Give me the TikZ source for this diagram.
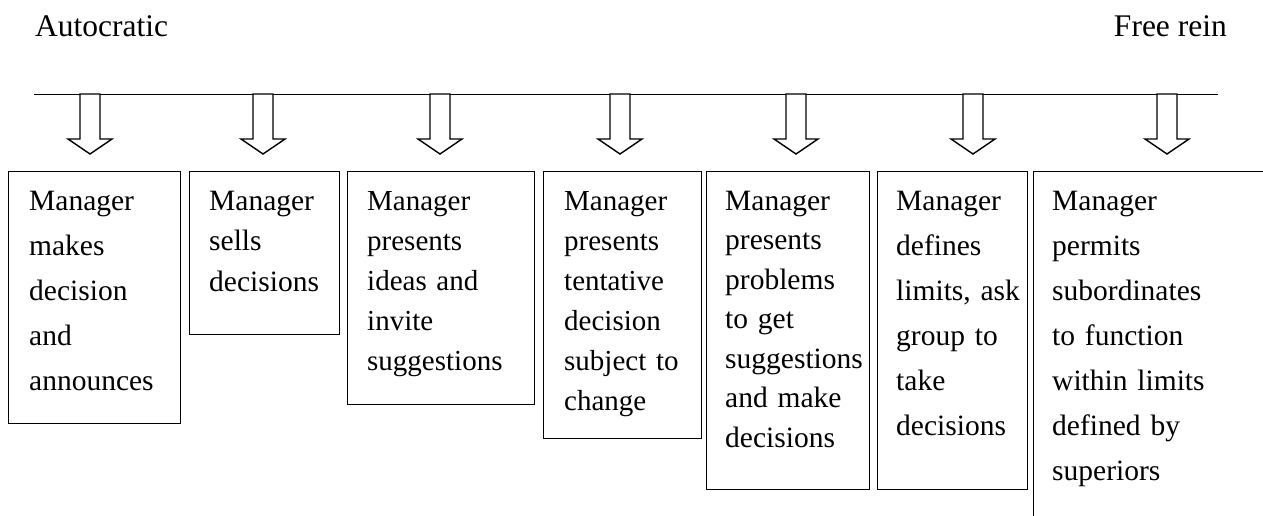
\documentclass[tikz,border=0pt]{standalone}
\usepackage{fontspec}
\setmainfont{Liberation Serif}
\begin{document}
\begin{tikzpicture}[x=1pt,y=-1pt,
  boxline/.style={draw=black,line width=1.4pt,inner sep=0pt,anchor=north west,fill=white},
  arrowline/.style={draw=black,line width=1.4pt,fill=white,line join=miter},
  boxtext/.style={anchor=base west,inner sep=0pt,text width=220pt,align=left},
  wide/.style={font=\fontsize{29.5}{45}\selectfont},
  narrow/.style={font=\fontsize{29.5}{40.5}\selectfont},
  times/.style={font=\fontsize{29}{40}\selectfont},
  title/.style={font=\fontsize{31.5}{36}\selectfont,inner sep=0pt},
  blockarrow/.pic={\draw[arrowline] (-10,0) -- (-10,45) -- (-22,45) -- (0,60) -- (22,45) -- (10,45) -- (10,0) -- cycle;}
]
\useasboundingbox (0,0) rectangle (1263,515);
\clip (0,0) rectangle (1263,515);

% titles
\node[title,anchor=base west] (auto) at (35,36) {Autocratic};
\node[title,anchor=base east] (free) at (1227,36) {Free rein};

% horizontal line
\coordinate (lineL) at (34,94);
\coordinate (lineR) at (1218,94);
\draw[line width=1pt] (lineL) -- (lineR);

% arrows
\foreach \x/\n in {90/a1,263/a2,440/a3,620/a4,796/a5,973/a6,1167/a7}{
  \coordinate (\n) at (\x,94);
  \pic at (\n) {blockarrow};
}

% boxes
\node[boxline,minimum width=172pt,minimum height=252pt] (b1) at (8,171) {};
\node[boxline,minimum width=150pt,minimum height=163pt] (b2) at (189,171) {};
\node[boxline,minimum width=187pt,minimum height=233pt] (b3) at (347,171) {};
\node[boxline,minimum width=158pt,minimum height=267pt] (b4) at (543,171) {};
\node[boxline,minimum width=163pt,minimum height=318pt] (b5) at (706,171) {};
\node[boxline,minimum width=150pt,minimum height=318pt] (b6) at (877,171) {};
\node[boxline,minimum width=400pt,minimum height=500pt] (b7) at (1033,171) {};

% texts
\node[boxtext,wide] (t1) at (29,210) {Manager\\makes\\decision\\and\\announces};
\node[boxtext,narrow] (t2) at (209,210) {Manager\\sells\\decisions};
\node[boxtext,times] (t3) at (367,210) {Manager\\presents\\ideas and\\invite\\suggestions};
\node[boxtext,times] (t4) at (564,210) {Manager\\presents\\tentative\\decision\\subject to\\change};
\node[boxtext,font=\fontsize{29.5}{39.5}\selectfont] (t5) at (725,210) {Manager\\presents\\problems\\to get\\suggestions\\and make\\decisions};
\node[boxtext,wide] (t6) at (896,210) {Manager\\defines\\limits, ask\\group to\\take\\decisions};
\node[boxtext,wide] (t7) at (1052,210) {Manager\\permits\\subordinates\\to function\\within limits\\defined by\\superiors};
\end{tikzpicture}
\end{document}
